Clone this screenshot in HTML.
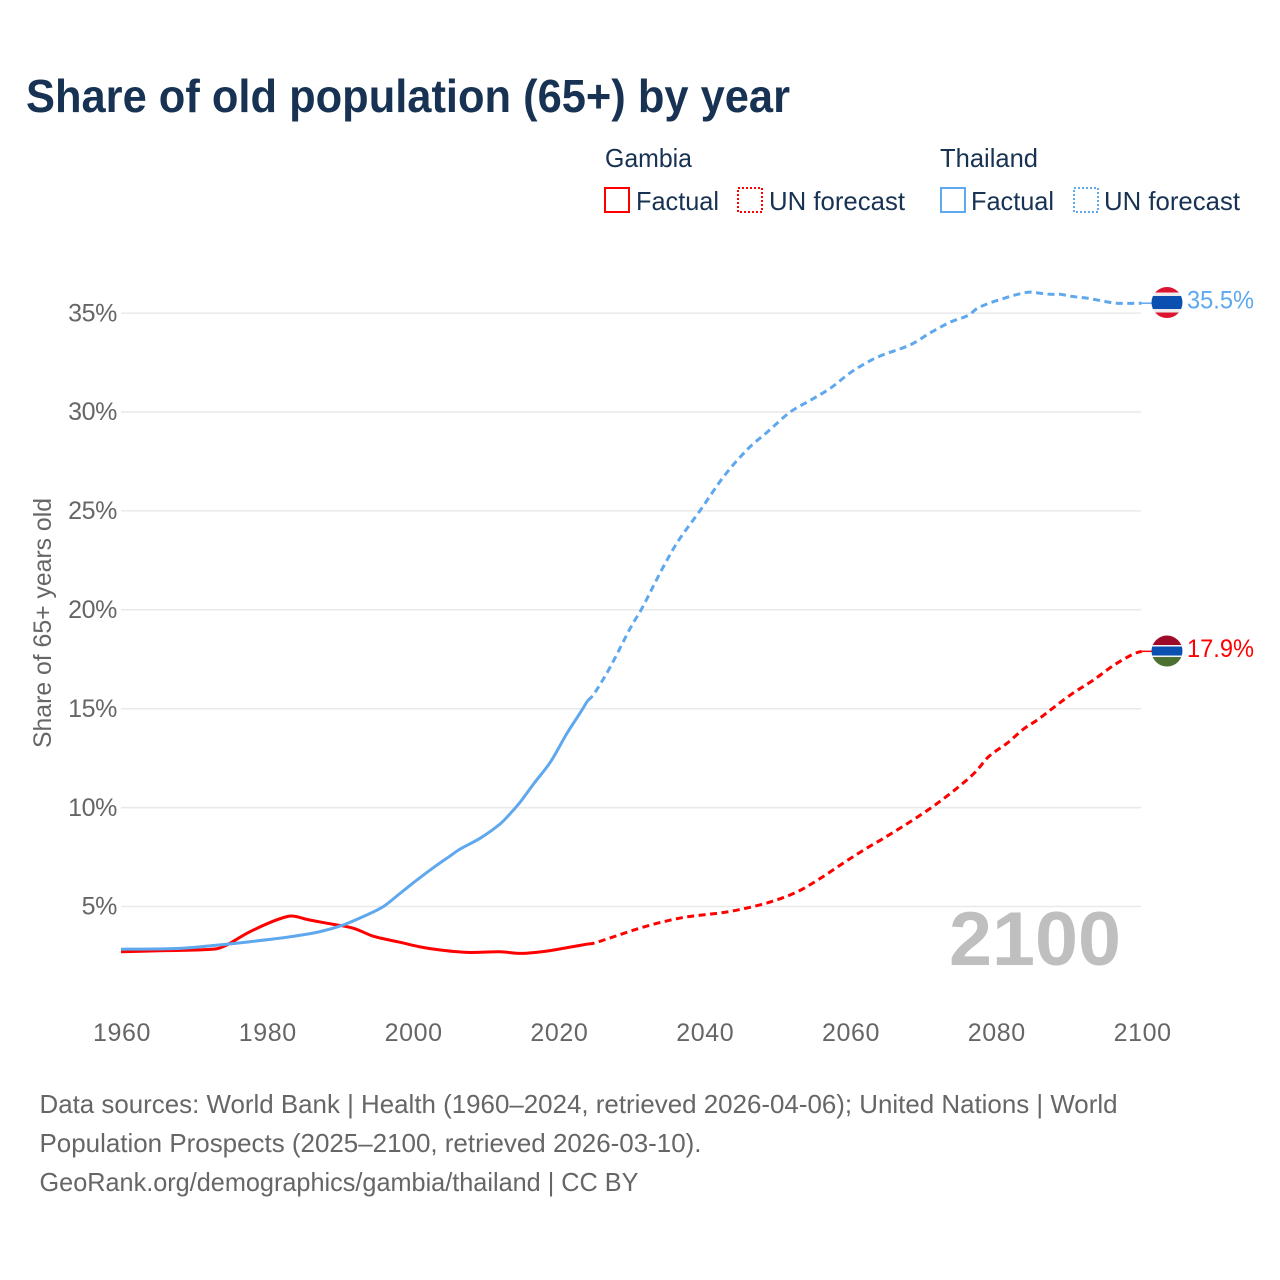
<!DOCTYPE html>
<html lang="en">
<head>
<meta charset="utf-8">
<title>Share of old population (65+) by year</title>
<style>
html,body{margin:0;padding:0;background:#fff;}
svg{display:block;font-family:"Liberation Sans",sans-serif;}
</style>
</head>
<body>
<svg id="chart" xmlns="http://www.w3.org/2000/svg" width="1280" height="1280" viewBox="0 0 1280 1280">
  <rect x="0" y="0" width="1280" height="1280" fill="#ffffff"/>
  <text x="26" y="112" font-size="46" font-weight="700" fill="#173252" textLength="764" lengthAdjust="spacingAndGlyphs">Share of old population (65+) by year</text>

  <g font-size="26" fill="#173252">
    <text x="605" y="167" textLength="87" lengthAdjust="spacingAndGlyphs">Gambia</text>
    <text x="940" y="167" textLength="98" lengthAdjust="spacingAndGlyphs">Thailand</text>
    <rect x="605" y="188" width="24" height="24" fill="none" stroke="#ff0000" stroke-width="2"/>
    <text x="636" y="210" textLength="83" lengthAdjust="spacingAndGlyphs">Factual</text>
    <rect x="738" y="188" width="24" height="24" fill="none" stroke="#ff0000" stroke-width="2" stroke-dasharray="2 2"/>
    <text x="769" y="210" textLength="136" lengthAdjust="spacingAndGlyphs">UN forecast</text>
    <rect x="941" y="188" width="24" height="24" fill="none" stroke="#5fa8ee" stroke-width="2"/>
    <text x="971" y="210" textLength="83" lengthAdjust="spacingAndGlyphs">Factual</text>
    <rect x="1074" y="188" width="24" height="24" fill="none" stroke="#5fa8ee" stroke-width="2" stroke-dasharray="2 2"/>
    <text x="1104" y="210" textLength="136" lengthAdjust="spacingAndGlyphs">UN forecast</text>
  </g>

  <g id="grid"></g>
  <g id="y-ticks"></g>
  <g id="x-ticks"></g>
  <text transform="translate(51,623) rotate(-90)" text-anchor="middle" font-size="25" fill="#666666" textLength="250" lengthAdjust="spacingAndGlyphs">Share of 65+ years old</text>
  <text x="949" y="965" font-size="76" font-weight="700" fill="#bfbfbf" textLength="172" lengthAdjust="spacingAndGlyphs">2100</text>
  <g id="series"></g>
  <g id="end-markers"></g>

  <g font-size="26" fill="#666666">
    <text x="39.5" y="1113" textLength="1078" lengthAdjust="spacingAndGlyphs">Data sources: World Bank | Health (1960–2024, retrieved 2026-04-06); United Nations | World</text>
    <text x="39.5" y="1152" textLength="662" lengthAdjust="spacingAndGlyphs">Population Prospects (2025–2100, retrieved 2026-03-10).</text>
    <text x="39.5" y="1191" textLength="599" lengthAdjust="spacingAndGlyphs">GeoRank.org/demographics/gambia/thailand | CC BY</text>
  </g>
</svg>
<script>
const yTickValues = [5, 10, 15, 20, 25, 30, 35];
const xTickYears = [1960, 1980, 2000, 2020, 2040, 2060, 2080, 2100];

const thailandFactualYears = [1960, 1968, 1973.2, 1977.7, 1983.2, 1987.3, 1990.5, 1993.7, 1996, 1998.3, 2000.6, 2002.8, 2005.2, 2006.5, 2009.3, 2012, 2013.4, 2014.8, 2016.6, 2018.9, 2021.2, 2023, 2024];
const thailandFactualValues = [2.84, 2.88, 3.05, 3.22, 3.47, 3.73, 4.07, 4.57, 5.0, 5.67, 6.34, 6.95, 7.57, 7.9, 8.46, 9.17, 9.7, 10.3, 11.2, 12.3, 13.77, 14.8, 15.4];
const thailandForecastYears = [2024, 2024.8, 2027.1, 2029.9, 2031.5, 2034, 2036.3, 2039.5, 2042.6, 2045.9, 2048.7, 2051.8, 2054.6, 2057.3, 2060.1, 2062.8, 2064.6, 2068.3, 2071, 2073.8, 2076.3, 2077.5, 2080.3, 2084.3, 2086.2, 2087.5, 2088.9, 2090.3, 2092.6, 2094.8, 2096.5, 2100];
const thailandForecastValues = [15.4, 15.7, 17.1, 19.1, 20.1, 21.9, 23.4, 25.05, 26.7, 28.1, 29.0, 30.0, 30.6, 31.2, 32.0, 32.6, 32.9, 33.4, 34.0, 34.55, 34.9, 35.25, 35.65, 36.05, 36.0, 35.95, 35.95, 35.85, 35.75, 35.6, 35.5, 35.5];

const gambiaFactualYears = [1960, 1966, 1972.9, 1974.5, 1977.3, 1980.5, 1982.9, 1983.9, 1985.5, 1988.3, 1991.9, 1994.6, 1998.3, 2001, 2003.8, 2007.5, 2012, 2015, 2018.5, 2021.2, 2024];
const gambiaFactualValues = [2.71, 2.77, 2.85, 3.05, 3.65, 4.2, 4.5, 4.5, 4.35, 4.15, 3.9, 3.5, 3.19, 2.96, 2.8, 2.68, 2.71, 2.63, 2.75, 2.92, 3.1];
const gambiaForecastYears = [2024, 2024.8, 2027.5, 2031.2, 2034.4, 2037.7, 2042.7, 2046.3, 2049.5, 2052.8, 2056, 2059.1, 2061.9, 2064.2, 2066.9, 2069.7, 2072.4, 2075.2, 2077.2, 2079, 2081.6, 2083.8, 2085.7, 2088.4, 2090.6, 2093.4, 2096.2, 2098.9, 2100];
const gambiaForecastValues = [3.1, 3.14, 3.46, 3.91, 4.23, 4.48, 4.7, 4.96, 5.28, 5.75, 6.44, 7.2, 7.86, 8.36, 8.97, 9.63, 10.33, 11.14, 11.8, 12.57, 13.27, 13.97, 14.43, 15.19, 15.79, 16.45, 17.2, 17.77, 17.9];

const RED = '#ff0000';
const BLUE = '#5fa8ee';
const NS = 'http://www.w3.org/2000/svg';

function xScale(year) { return 121 + (year - 1960) * (1020.6 / 140); }
function yScale(value) { return 1005.4 - value * 19.78; }
function pathFor(years, values) {
  const xs = years.map(xScale);
  const ys = values.map(yScale);
  const last = xs.length - 1;
  function slope(i) {
    const a = Math.max(i - 1, 0);
    const b = Math.min(i + 1, last);
    return (ys[b] - ys[a]) / (xs[b] - xs[a]);
  }
  let d = 'M' + xs[0].toFixed(2) + ' ' + ys[0].toFixed(2);
  for (let i = 0; i < last; i++) {
    const dx = (xs[i + 1] - xs[i]) / 3;
    d += ' C' + (xs[i] + dx).toFixed(2) + ' ' + (ys[i] + slope(i) * dx).toFixed(2) +
         ' ' + (xs[i + 1] - dx).toFixed(2) + ' ' + (ys[i + 1] - slope(i + 1) * dx).toFixed(2) +
         ' ' + xs[i + 1].toFixed(2) + ' ' + ys[i + 1].toFixed(2);
  }
  return d;
}
function make(tag, attrs, parent) {
  const el = document.createElementNS(NS, tag);
  Object.keys(attrs).forEach(function (k) { el.setAttribute(k, attrs[k]); });
  parent.appendChild(el);
  return el;
}

const grid = document.getElementById('grid');
const yTicks = document.getElementById('y-ticks');
const xTicks = document.getElementById('x-ticks');
const seriesGroup = document.getElementById('series');
const markers = document.getElementById('end-markers');

yTickValues.forEach(function (v) {
  const line = make('line', { x1: 121, x2: 1141, y1: yScale(v), y2: yScale(v), stroke: '#e9e9e9', 'stroke-width': 1.5 }, grid);
  
  
  const label = make('text', { x: 117, y: yScale(v) + 8.2, 'text-anchor': 'end', 'font-size': 25, fill: '#666666', 'letter-spacing': '-0.4' }, yTicks);
  
  
  label.textContent = v + '%';
});

xTickYears.forEach(function (year) {
  const label = make('text', { x: xScale(year) + 1, y: 1041, 'text-anchor': 'middle', 'font-size': 25, fill: '#666666', 'letter-spacing': '0.6' }, xTicks);
  
  
  label.textContent = year;
});

const gambiaFactualLine = make('path', { d: pathFor(gambiaFactualYears, gambiaFactualValues), fill: 'none', stroke: RED, 'stroke-width': 3, 'stroke-linejoin': 'round' }, seriesGroup);



const gambiaForecastLine = make('path', { d: pathFor(gambiaForecastYears, gambiaForecastValues), fill: 'none', stroke: RED, 'stroke-width': 3, 'stroke-dasharray': '7 4.5', 'stroke-linejoin': 'round' }, seriesGroup);



const thailandFactualLine = make('path', { d: pathFor(thailandFactualYears, thailandFactualValues), fill: 'none', stroke: BLUE, 'stroke-width': 3, 'stroke-linejoin': 'round' }, seriesGroup);



const thailandForecastLine = make('path', { d: pathFor(thailandForecastYears, thailandForecastValues), fill: 'none', stroke: BLUE, 'stroke-width': 3, 'stroke-dasharray': '7 4.5', 'stroke-linejoin': 'round' }, seriesGroup);



function stripedFlag(group, clipId, cy, bands) {
  const defs = make('defs', {}, group);
  const clip = make('clipPath', { id: clipId }, defs);
  make('circle', { cx: 1167, cy: cy, r: 15.5 }, clip);
  const flag = make('g', { 'clip-path': 'url(#' + clipId + ')' }, group);
  bands.forEach(function (b) {
    make('rect', { x: 1150, y: cy + b[0], width: 34, height: b[1], fill: b[2] }, flag);
  });
  return flag;
}

const thailandEnd = thailandForecastValues[thailandForecastValues.length - 1];
const thailandEndY = yScale(thailandEnd);
const thailandConnector = make('line', { x1: xScale(2100), x2: 1152, y1: thailandEndY, y2: thailandEndY, stroke: BLUE, 'stroke-width': 1.5 }, markers);


const thailandFlag = stripedFlag(markers, 'clip-thailand', thailandEndY - 0.7, [[-16, 6, '#dc1430'], [-10, 4, '#ececec'], [-6.5, 13, '#0a50b0'], [6.5, 4, '#ececec'], [10, 6, '#dc1430']]);


const thailandLabel = make('text', { x: 1187, y: thailandEndY + 5.5, 'font-size': 25, fill: BLUE, textLength: 67, lengthAdjust: 'spacingAndGlyphs' }, markers);


thailandLabel.textContent = thailandEnd.toFixed(1) + '%';

const gambiaEnd = gambiaForecastValues[gambiaForecastValues.length - 1];
const gambiaEndY = yScale(gambiaEnd);
const gambiaConnector = make('line', { x1: xScale(2100), x2: 1152, y1: gambiaEndY, y2: gambiaEndY, stroke: RED, 'stroke-width': 1.5 }, markers);


const gambiaFlag = stripedFlag(markers, 'clip-gambia', gambiaEndY - 0.3, [[-16, 10, '#9e0b28'], [-6, 2, '#f2f2f2'], [-4.5, 9, '#0a50b0'], [4.5, 2, '#f2f2f2'], [6, 10, '#4b7031']]);


const gambiaLabel = make('text', { x: 1187, y: gambiaEndY + 5.5, 'font-size': 25, fill: RED, textLength: 67, lengthAdjust: 'spacingAndGlyphs' }, markers);


gambiaLabel.textContent = gambiaEnd.toFixed(1) + '%';
</script>
</body>
</html>
